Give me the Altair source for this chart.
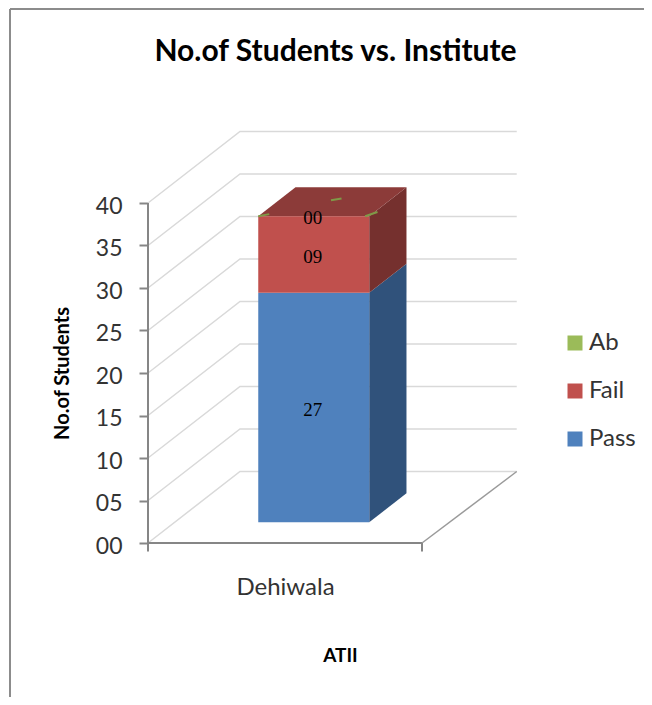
import altair as alt
import pandas as pd

institutes = ["Dehiwala"]
series = ["Pass", "Fail", "Ab"]
values = [27, 9, 0]
y_ticks = [0, 5, 10, 15, 20, 25, 30, 35, 40]
front_colors = ["#4F81BD", "#C0504D", "#9BBB59"]
side_colors = ["#30527B", "#75302E", "#64793A"]
top_color = "#8C3B39"
fleck_color = "#7F9A48"
legend_order = ["Ab", "Fail", "Pass"]

FONT = "Lato"
AXIS = "#868686"
GRID = "#D9D9D9"

# oblique projection: depth d in [0, 1] moves a point right and up
DX = 92 / 274
DY = 71.5 / 8.5
X_DOM = [0, 369 / 274]
Y_DOM = [0, 412 / 8.5]
BAR_L, BAR_R = 0.305, 0.71
D0, D1 = 0.29, 0.695
BACK_R = 1.01

Y_AXIS = alt.Axis(
    values=y_ticks, domain=False, grid=False, tickColor=AXIS, tickWidth=2, tickSize=9,
    labelExpr="datum.value < 10 ? '0' + datum.value : '' + datum.value",
    labelFont=FONT, labelFontSize=23, labelColor="#333333", labelPadding=17, labelOffset=3,
    title="No.of Students", titleFont=FONT, titleFontSize=20, titleFontWeight="bold",
    titleColor="#000000", titleX=-76, titleY=242,
)
X_AXIS = alt.Axis(
    values=[0.5], domain=False, grid=False, ticks=False,
    labelExpr=f"'{institutes[0]}'",
    labelFont=FONT, labelFontSize=24, labelColor="#333333", labelPadding=32,
    title="ATII", titleFont=FONT, titleFontSize=19, titleFontWeight="bold",
    titleColor="#000000", titleX=192, titleY=103,
)


def px(x, d):
    return x + d * DX


def py(v, d):
    return v + d * DY


def X(f="x"):
    return alt.X(f"{f}:Q", scale=alt.Scale(domain=X_DOM, nice=False, zero=False), axis=X_AXIS)


def Y(f="y"):
    return alt.Y(f"{f}:Q", scale=alt.Scale(domain=Y_DOM, nice=False, zero=False), axis=Y_AXIS, stack=None)


def poly_line(points, color, width):
    df = pd.DataFrame(points, columns=["x", "y"]).assign(i=range(len(points)))
    return alt.Chart(df).mark_line(color=color, strokeWidth=width, clip=False).encode(
        X(), Y(), order="i:Q"
    )


def area(points, color):
    df = pd.DataFrame(points, columns=["x", "y", "y2"])
    return alt.Chart(df).mark_area(color=color, opacity=1, clip=False).encode(
        X(), Y(), y2="y2:Q"
    )


layers = []

# walls' gridlines
for v in y_ticks:
    layers.append(poly_line([(0, v), (px(0, 1), py(v, 1)), (px(BACK_R, 1), py(v, 1))], GRID, 1.5))
# floor right edge
layers.append(poly_line([(1, 0), (px(BACK_R, 1), py(0, 1))], "#9A9A9A", 1.5))

# stacked box
bottoms = [sum(values[:i]) for i in range(len(values))]
tops = [b + v for b, v in zip(bottoms, values)]
for b, t, col in zip(bottoms, tops, side_colors):
    if t > b:
        xa, xb = px(BAR_R, D0), px(BAR_R, D1)
        layers.append(area([(xa, py(b, D0), py(t, D0)), (xb, py(b, D1), py(t, D1))], col))

total = tops[-1]
xs = [px(BAR_L, D0), px(BAR_L, D1), px(BAR_R, D0), px(BAR_R, D1)]
lo, hi = py(total, D0), py(total, D1)
layers.append(area([(xs[0], lo, lo), (xs[1], lo, hi), (xs[2], lo, hi), (xs[3], hi, hi)], top_color))

front = pd.DataFrame({
    "series": series,
    "x": [px(BAR_L, D0)] * 3,
    "x2": [px(BAR_R, D0)] * 3,
    "y": [py(b, D0) for b in bottoms],
    "y2": [py(t, D0) for t in tops],
})
layers.append(
    alt.Chart(front).mark_rect(clip=False, strokeWidth=0).encode(
        X(), Y(), x2="x2:Q", y2="y2:Q",
        color=alt.Color(
            "series:N",
            scale=alt.Scale(domain=legend_order, range=[front_colors[2], front_colors[1], front_colors[0]]),
            legend=alt.Legend(
                title=None, orient="none", legendX=415, legendY=200,
                symbolType="square", symbolSize=225, symbolStrokeWidth=0,
                labelFont=FONT, labelFontSize=24, labelColor="#333333",
                rowPadding=24, labelOffset=2, symbolOpacity=1,
            ),
        ),
    )
)

# zero-height "Ab" box only peeks through at the corners of the top face
flecks = [
    ((0.305, 0.29), (0.335, 0.32)),
    ((0.495, 0.515), (0.525, 0.54)),
    ((0.695, 0.29), (0.72, 0.35)),
]
for (xa, da), (xb, db) in flecks:
    layers.append(poly_line([(px(xa, da), py(total, da)), (px(xb, db), py(total, db))], fleck_color, 2))

# data labels
labels = pd.DataFrame({
    "x": [px((BAR_L + BAR_R) / 2, D0)] * 3,
    "y": [py((b + t) / 2, D0) for b, t in zip(bottoms, tops)],
    "t": [f"{v:02d}" for v in values],
})
layers.append(
    alt.Chart(labels).mark_text(font="Liberation Serif", fontSize=19, color="#000000", baseline="middle", dy=2, dx=-1, clip=False).encode(
        X(), Y(), text="t:N"
    )
)

# axes
layers.append(poly_line([(0, 0), (0, 40)], AXIS, 2))
layers.append(poly_line([(0, 0), (1, 0)], AXIS, 2))
for xv in [0, 1]:
    layers.append(poly_line([(xv, 0), (xv, -1)], AXIS, 2))

# chart-area frame
layers.append(alt.Chart().mark_rule(color="#8C8C8C", strokeWidth=2).encode(
    x=alt.value(-138), y=alt.value(-122), y2=alt.value(566)))
layers.append(alt.Chart().mark_rule(color="#8C8C8C", strokeWidth=2).encode(
    x=alt.value(-138), x2=alt.value(496), y=alt.value(-122)))

chart = alt.layer(*layers).properties(
    width=369,
    height=412,
    padding={"left": 140, "top": 123, "right": 127, "bottom": 154},
    autosize=alt.AutoSizeParams(type="none"),
    title=alt.TitleParams(
        "No.of Students vs. Institute", font=FONT, fontSize=30, fontWeight="bold", color="#000000",
        anchor="middle", frame="group", dx=3, offset=0, dy=59,
    ),
    background="#FFFFFF",
).configure_view(stroke=None)

chart.save("out.html", embed_options={"renderer": "svg", "actions": False})
